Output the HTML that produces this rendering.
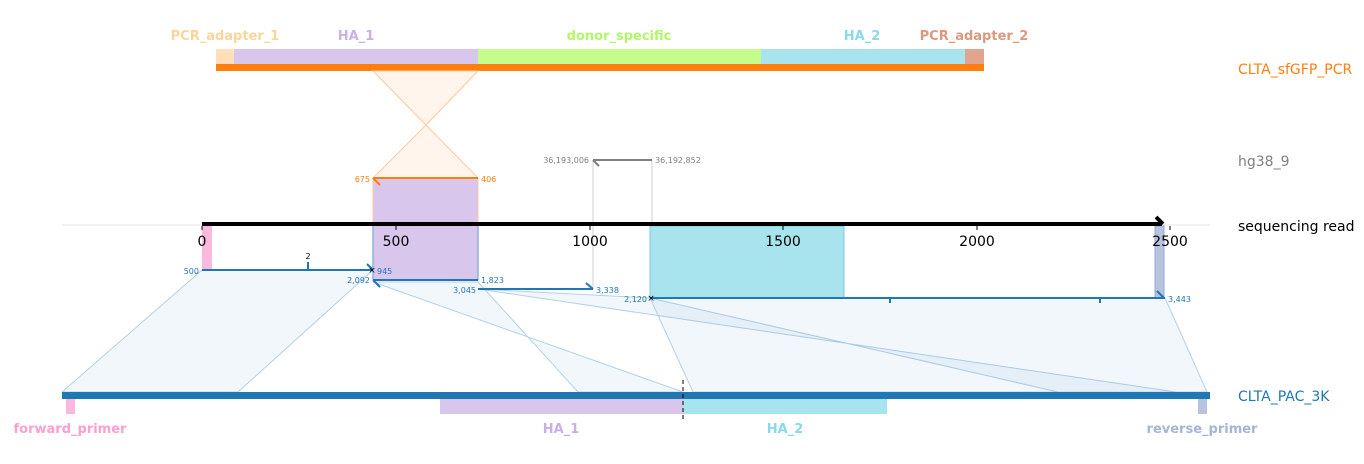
<!DOCTYPE html>
<html><head><meta charset="utf-8"><style>
html,body{margin:0;padding:0;background:#fff;width:1364px;height:464px;overflow:hidden}
text{font-family:"DejaVu Sans","Liberation Sans",sans-serif}
</style></head><body>
<svg width="1364" height="464" viewBox="0 0 1364 464" xmlns="http://www.w3.org/2000/svg">
<g font-size="13" font-weight="bold" text-anchor="middle">
<text x="225" y="40" fill="#fbd59c">PCR_adapter_1</text>
<text x="356" y="40" fill="#c9b0e6">HA_1</text>
<text x="619" y="40" fill="#b5f56a">donor_specific</text>
<text x="862" y="40" fill="#8ad9ea">HA_2</text>
<text x="974" y="40" fill="#d99a80">PCR_adapter_2</text>
</g>
<rect x="216" y="49" width="18" height="15" fill="#fde0b8"/>
<rect x="234" y="49" width="244" height="15" fill="#d9c6ec"/>
<rect x="478" y="49" width="283" height="15" fill="#c5fd8c"/>
<rect x="761" y="49" width="204" height="15" fill="#a8e4ee"/>
<rect x="965" y="49" width="19" height="15" fill="#e0a58c"/>
<rect x="216" y="64" width="768" height="7" fill="#ff7f0e"/>
<polygon points="373,71 478,71 426,125" fill="#fff5ec" stroke="#fdc89c" stroke-width="1"/>
<polygon points="426,125 478,178 373,178" fill="#fff5ec" stroke="#fdc89c" stroke-width="1"/>
<g font-size="14">
<text x="1238" y="74" fill="#ff7f0e">CLTA_sfGFP_PCR</text>
<text x="1238" y="166" fill="#808080">hg38_9</text>
<text x="1238" y="231" fill="#000">sequencing read</text>
<text x="1238" y="401" fill="#1f77b4">CLTA_PAC_3K</text>
</g>
<line x1="62" y1="225" x2="1210" y2="225" stroke="#e6e6e6" stroke-width="1"/>
<line x1="593" y1="160" x2="593" y2="289" stroke="#d0d0d0" stroke-width="1"/>
<line x1="652" y1="160" x2="652" y2="226" stroke="#d0d0d0" stroke-width="1"/>
<line x1="593" y1="160" x2="652" y2="160" stroke="#808080" stroke-width="2"/>
<line x1="593" y1="160" x2="599" y2="166" stroke="#808080" stroke-width="2"/>
<g font-size="8" fill="#808080"><text x="589" y="163" text-anchor="end">36,193,006</text><text x="655" y="163">36,192,852</text></g>
<rect x="373" y="178" width="105" height="102" fill="#d9c6ec" stroke="#fdc89c" stroke-width="1"/>
<line x1="373" y1="226" x2="373" y2="280" stroke="#8fb3dd" stroke-width="1.5"/>
<line x1="478" y1="226" x2="478" y2="280" stroke="#8fb3dd" stroke-width="1.5"/>
<line x1="373" y1="178" x2="478" y2="178" stroke="#ff7f0e" stroke-width="2"/>
<line x1="373" y1="178" x2="380" y2="185" stroke="#ff7f0e" stroke-width="2"/>
<g font-size="8" fill="#ff7f0e"><text x="370" y="182" text-anchor="end">675</text><text x="481" y="182">406</text></g>
<g fill="rgba(31,119,180,0.06)" stroke="#b3d1e8" stroke-width="1">
<polygon points="202,270 373,270 238,392 62,392"/>
<polygon points="373,282 478,282 578,392 683,392"/>
<polygon points="478,289 650,298 1058,392 1176,392"/>
<polygon points="650,298 1165,298 1207,392 693,392"/>
</g>
<rect x="202" y="226" width="10" height="44" fill="#fbb9dd"/>
<rect x="650" y="226" width="194" height="72" fill="#a8e4ee" stroke="#7cc8e0" stroke-width="1"/>
<rect x="1155" y="226" width="9" height="72" fill="#b8c4de" stroke="#8fa8d6" stroke-width="1"/>
<line x1="202" y1="224" x2="1162" y2="224" stroke="#000" stroke-width="4"/>
<polyline points="1156,217 1163,224" stroke="#000" stroke-width="4" fill="none"/>
<g stroke="#000" stroke-width="1">
<line x1="202" y1="226" x2="202" y2="230"/><line x1="396" y1="226" x2="396" y2="230"/><line x1="590" y1="226" x2="590" y2="230"/><line x1="783" y1="226" x2="783" y2="230"/><line x1="977" y1="226" x2="977" y2="230"/><line x1="1170" y1="226" x2="1170" y2="230"/>
</g>
<g font-size="14" fill="#000" text-anchor="middle">
<text x="202" y="246">0</text><text x="396" y="246">500</text><text x="590" y="246">1000</text><text x="783" y="246">1500</text><text x="977" y="246">2000</text><text x="1170" y="246">2500</text>
</g>
<g stroke="#1f77b4" stroke-width="2" fill="none">
<line x1="202" y1="270" x2="373" y2="270"/>
<line x1="308" y1="270" x2="308" y2="262"/>
<line x1="367" y1="264" x2="373" y2="270"/>
<line x1="373" y1="280" x2="478" y2="280"/>
<line x1="373" y1="280" x2="380" y2="287"/>
<line x1="478" y1="289" x2="593" y2="289"/>
<line x1="586" y1="283" x2="593" y2="289"/>
<line x1="650" y1="298" x2="1165" y2="298"/>
<line x1="1157" y1="291" x2="1164" y2="298"/>
<line x1="890" y1="298" x2="890" y2="303"/>
<line x1="1100" y1="298" x2="1100" y2="303"/>
</g>
<text x="308" y="259" font-size="8" text-anchor="middle" fill="#000">2</text>
<text x="372" y="273" font-size="9" text-anchor="middle" fill="#000">×</text>
<text x="651" y="301" font-size="9" text-anchor="middle" fill="#000">×</text>
<g font-size="8" fill="#1f77b4">
<text x="199" y="274" text-anchor="end">500</text><text x="377" y="274">945</text>
<text x="370" y="283" text-anchor="end">2,092</text><text x="481" y="283">1,823</text>
<text x="476" y="293" text-anchor="end">3,045</text><text x="596" y="293">3,338</text>
<text x="647" y="302" text-anchor="end">2,120</text><text x="1168" y="302">3,443</text>
</g>
<rect x="62" y="392" width="1148" height="7" fill="#1f77b4"/>
<rect x="66" y="399" width="9" height="15" fill="#fbb9dd"/>
<rect x="440" y="399" width="243" height="15" fill="#d9c6ec"/>
<rect x="683" y="399" width="204" height="15" fill="#a8e4ee"/>
<rect x="1198" y="399" width="9" height="15" fill="#b8c4de"/>
<line x1="683" y1="380" x2="683" y2="419" stroke="#000" stroke-width="1" stroke-dasharray="4,3"/>
<g font-size="13" font-weight="bold" text-anchor="middle">
<text x="70" y="433" fill="#fca0d2">forward_primer</text>
<text x="561" y="433" fill="#c9b0e6">HA_1</text>
<text x="785" y="433" fill="#8ad9ea">HA_2</text>
<text x="1202" y="433" fill="#a6b4d8">reverse_primer</text>
</g>
</svg>
</body></html>
